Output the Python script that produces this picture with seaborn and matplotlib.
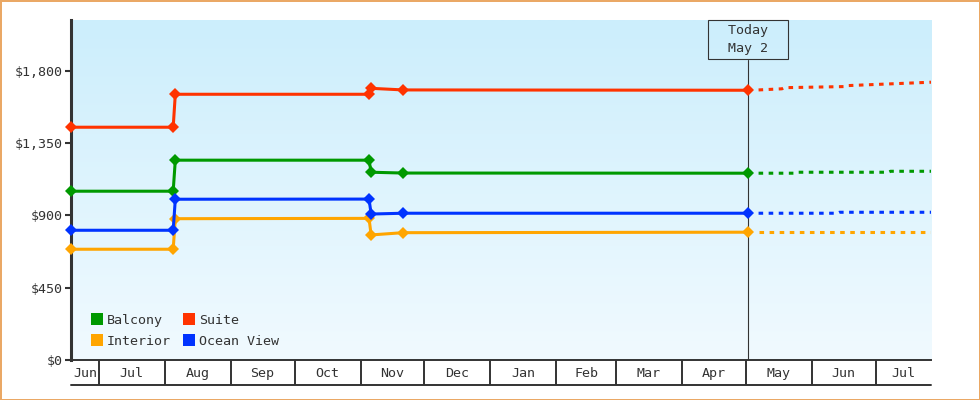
import matplotlib
matplotlib.use("Agg")
import matplotlib.pyplot as plt
import matplotlib.dates as mdates
import matplotlib.transforms as mtransforms
from matplotlib.lines import Line2D
import matplotlib.ticker as mticker
import numpy as np
import pandas as pd
import seaborn as sns

# ---- data ----
cabins = ["Balcony", "Interior", "Suite", "Ocean View"]
colors = ["#009900", "#ffa500", "#ff3300", "#0033ff"]

hist_dates = ["2022-06-18", "2022-08-05", "2022-08-06", "2022-11-05",
              "2022-11-06", "2022-11-21", "2023-05-02"]
balcony = [1050, 1050, 1243, 1243, 1168, 1163, 1162]
interior = [689, 689, 879, 881, 778, 792, 795]
suite = [1448, 1448, 1653, 1653, 1690, 1680, 1678]
ocean_view = [807, 807, 1000, 1001, 908, 913, 913]

# projections after today (dotted)
balcony_proj_dates = ["2023-05-07", "2023-05-24", "2023-05-25", "2023-07-07", "2023-07-08", "2023-07-27"]
balcony_proj = [1162, 1162, 1168, 1168, 1174, 1174]
interior_proj_dates = ["2023-05-07", "2023-07-27"]
interior_proj = [795, 795]
suite_proj_dates = ["2023-05-07", "2023-05-18", "2023-05-19", "2023-06-17", "2023-06-18", "2023-07-27"]
suite_proj = [1680, 1687, 1694, 1701, 1707, 1728]
ocean_proj_dates = ["2023-05-07", "2023-06-13", "2023-06-14", "2023-07-27"]
ocean_proj = [913, 913, 919, 919]

today = "2023-05-02"
x_start, x_end = "2022-06-18", "2023-07-27"
y_max = 2115
y_ticks = [0, 450, 900, 1350, 1800]

# ---- build frames ----
hist = pd.concat([
    pd.DataFrame({"date": pd.to_datetime(hist_dates), "price": v, "cabin": c})
    for c, v in zip(cabins, [balcony, interior, suite, ocean_view])
])
proj = pd.concat([
    pd.DataFrame({"date": pd.to_datetime(d), "price": v, "cabin": c})
    for c, d, v in zip(cabins,
                       [balcony_proj_dates, interior_proj_dates, suite_proj_dates, ocean_proj_dates],
                       [balcony_proj, interior_proj, suite_proj, ocean_proj])
])
palette = dict(zip(cabins, colors))

sns.set_style("white")
plt.rcParams["font.family"] = ["DejaVu Sans Mono"]
ink = "#333333"

fig = plt.figure(figsize=(9.8, 4), dpi=100)
fig.patch.set_facecolor("white")
fig.patch.set_edgecolor("#eaa865")
fig.patch.set_linewidth(2)
ax = fig.add_axes([71 / 980, 40 / 400, 860 / 980, 340 / 400])

# gradient background
grad = np.linspace(0, 1, 256)[:, None]
top_c = np.array([204, 238, 252]) / 255
bot_c = np.array([241, 250, 255]) / 255
img = top_c * (1 - grad[..., None]) + bot_c * grad[..., None]
ax.imshow(img, aspect="auto", extent=[0, 1, 0, 1], transform=ax.transAxes, zorder=0)

sns.lineplot(data=proj, x="date", y="price", hue="cabin", palette=palette,
             estimator=None, sort=False, legend=False, ax=ax,
             linewidth=2.2, linestyle=(0, (1.5, 1.8)), dash_capstyle="butt", zorder=3)
sns.lineplot(data=hist, x="date", y="price", hue="cabin", palette=palette,
             estimator=None, sort=False, legend=False, ax=ax,
             linewidth=2.2, marker="D", markersize=6, markeredgewidth=0, zorder=4,
             clip_on=False)

xmin, xmax = pd.Timestamp(x_start), pd.Timestamp(x_end)
ax.set_xlim(xmin, xmax)
ax.set_ylim(0, y_max)
ax.set_xlabel("")
ax.set_ylabel("")

# today marker
t = mdates.date2num(pd.Timestamp(today))
ax.axvline(t, ymin=0, ymax=(340 - 40) / 340, color=ink, lw=0.8, zorder=2)
ax.annotate("  Today  \n  May 2  ", xy=(t, 1.0),
            xycoords=mtransforms.blended_transform_factory(ax.transData, ax.transAxes),
            xytext=(0, -3), textcoords="offset points", ha="center", va="top",
            fontsize=9.6, color=ink, linespacing=1.5,
            bbox=dict(boxstyle="square,pad=0.3", fc="none", ec=ink, lw=0.8))

# spines
for s in ["top", "right"]:
    ax.spines[s].set_visible(False)
ax.spines["left"].set_linewidth(2.2)
ax.spines["left"].set_color(ink)
ax.spines["bottom"].set_linewidth(1.4)
ax.spines["bottom"].set_color(ink)

# y axis
ax.yaxis.set_major_locator(mticker.FixedLocator(y_ticks))
ax.yaxis.set_major_formatter(mticker.FuncFormatter(lambda v, p: f"${v:,.0f}"))
ax.tick_params(axis="y", which="major", length=4, width=1.5, color=ink,
               labelsize=9.6, labelcolor=ink, pad=2, left=True)

# x axis: month cells
month_starts = pd.date_range(xmin.to_period("M").to_timestamp(), xmax, freq="MS")
bounds = [m for m in month_starts if xmin < m < xmax]
centers, labels = [], []
for m in month_starts:
    s = max(m, xmin)
    e = min(m + pd.offsets.MonthBegin(1), xmax)
    centers.append(s + (e - s) / 2)
    labels.append(m.strftime("%b"))
ax.xaxis.set_major_locator(mticker.FixedLocator([mdates.date2num(c) for c in centers]))
ax.xaxis.set_major_formatter(mticker.FixedFormatter(labels))
ax.xaxis.set_minor_locator(mticker.FixedLocator([mdates.date2num(b) for b in bounds]))
ax.tick_params(axis="x", which="major", length=0, labelsize=9.6, labelcolor=ink, pad=5, bottom=True)
ax.tick_params(axis="x", which="minor", length=18, width=1.4, color=ink, bottom=True, direction="out")
ax.add_artist(Line2D([0, 1], [-25 / 340, -25 / 340], transform=ax.transAxes,
                     color=ink, lw=1.4, clip_on=False))

# legend
handles = [Line2D([], [], ls="none", marker="s", markersize=8, markeredgewidth=0,
                  color=palette[c], label=c) for c in cabins]
leg = ax.legend(handles=handles, ncol=2, loc="lower left", bbox_to_anchor=(21 / 860, 12 / 340),
                frameon=False, fontsize=9.6, handlelength=0.8, handletextpad=0.3,
                columnspacing=1.0, labelspacing=0.6, borderpad=0, borderaxespad=0)
for txt in leg.get_texts():
    txt.set_color(ink)

fig.savefig("out.png", dpi=100, facecolor=fig.get_facecolor(), edgecolor=fig.get_edgecolor())
